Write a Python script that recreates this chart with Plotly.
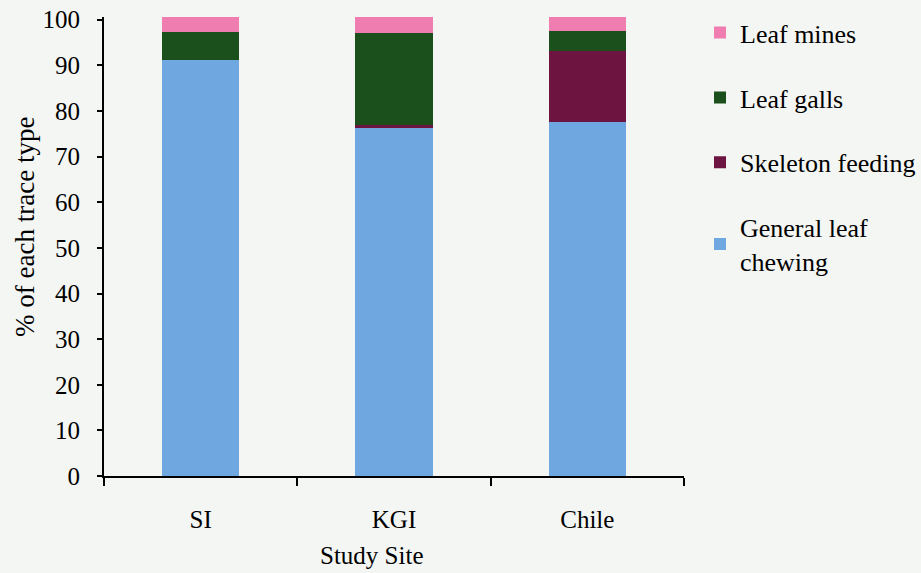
import plotly.graph_objects as go

# Study sites and percentage of each insect trace type
sites = ["SI", "KGI", "Chile"]
general_leaf_chewing = [91.2, 76.3, 77.5]
skeleton_feeding = [0.0, 0.7, 15.6]
leaf_galls = [6.2, 20.0, 4.5]
leaf_mines = [3.1, 3.5, 3.0]

series_names = ["General leaf<br>chewing", "Skeleton feeding", "Leaf galls", "Leaf mines"]
series_values = [general_leaf_chewing, skeleton_feeding, leaf_galls, leaf_mines]
series_colors = ["#6FA7E0", "#6D1441", "#1B4F1B", "#F07DB0"]

y_ticks = list(range(0, 101, 10))

FONT = "Liberation Serif, Times New Roman, serif"
BG = "#F4F6F3"

fig = go.Figure()
for i, (name, vals, col) in enumerate(zip(series_names, series_values, series_colors)):
    fig.add_trace(go.Bar(
        x=sites, y=vals, name=name, marker=dict(color=col, line=dict(width=0)),
        legendgroup=f"g{i}", legendrank=len(series_names) - i,
    ))

fig.update_layout(
    barmode="stack",
    bargap=0.6,
    width=921, height=573,
    margin=dict(l=104, r=237, t=17, b=97, autoexpand=False),
    paper_bgcolor=BG, plot_bgcolor=BG,
    font=dict(family=FONT, size=24, color="black"),
    showlegend=True,
    legend=dict(
        x=1.0276, y=1.017, xanchor="left", yanchor="top",
        traceorder="grouped", tracegroupgap=28,
        font=dict(family=FONT, size=26, color="black"),
        bgcolor="rgba(0,0,0,0)",
    ),
    xaxis=dict(
        type="category", tickson="boundaries", ticks="outside", ticklen=8,
        tickwidth=2, tickcolor="black",
        showline=True, linewidth=2, linecolor="black",
        showgrid=False, ticklabelstandoff=20,
        tickfont=dict(family=FONT, size=25, color="black"),
    ),
    yaxis=dict(
        range=[0, 100.6], tickvals=y_ticks, ticks="outside", ticklen=5,
        tickwidth=2, tickcolor="black",
        showline=True, linewidth=2, linecolor="black",
        showgrid=False, zeroline=False, ticklabelstandoff=12,
        tickfont=dict(family=FONT, size=25, color="black"),
    ),
    annotations=[
        dict(text="Study Site", xref="paper", yref="paper",
             x=(372 - 104) / 580, y=-(555 - 476) / 459,
             xanchor="center", yanchor="middle", showarrow=False,
             font=dict(family=FONT, size=25, color="black")),
        dict(text="% of each trace type", xref="paper", yref="paper",
             x=-(104 - 25) / 580, y=(476 - 227) / 459, textangle=-90,
             xanchor="center", yanchor="middle", showarrow=False,
             font=dict(family=FONT, size=27, color="black")),
    ],
)

fig.write_html("out.html")
